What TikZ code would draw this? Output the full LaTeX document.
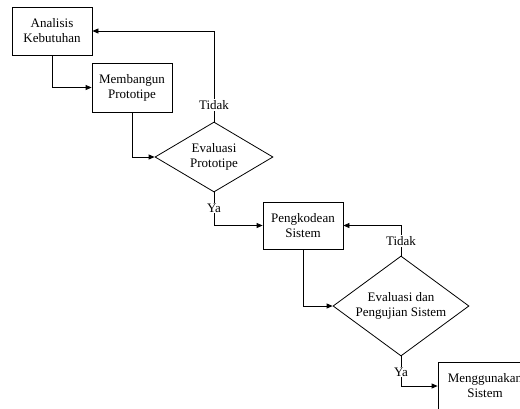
\documentclass[tikz,border=0pt]{standalone}
\usepackage{fontspec}
\setmainfont{Liberation Serif}
\usetikzlibrary{shapes.geometric,arrows.meta}
\tikzset{
  base/.style={font=\fontsize{13}{15}\selectfont, align=center, line width=0.8pt},
  procbox/.style={base, draw, rectangle, inner sep=0pt},
  decbox/.style={base, draw, diamond, inner sep=0pt},
  lbl/.style={font=\fontsize{13}{15}\selectfont, fill=white, inner sep=1pt},
  conn/.style={line width=0.8pt, -{Triangle[length=6pt,width=5pt]}}
}
\begin{document}
\begin{tikzpicture}[x=1pt,y=-1pt]
\useasboundingbox (0,0) rectangle (520,408);
\clip (0,0) rectangle (520,408);
\node[procbox, minimum width=80pt, minimum height=48pt] (a) at (52,31) {Analisis\\Kebutuhan};
\node[procbox, minimum width=80pt, minimum height=49pt] (b) at (132,87.5) {Membangun\\Prototipe};
\node[decbox, minimum width=118pt, minimum height=70pt, aspect=1.686] (d1) at (214,157) {Evaluasi\\Prototipe};
\node[procbox, minimum width=80pt, minimum height=47pt] (c) at (303,225.5) {Pengkodean\\Sistem};
\node[decbox, minimum width=136pt, minimum height=100pt, aspect=1.36] (d2) at (401,306) {Evaluasi dan\\Pengujian Sistem};
\node[procbox, minimum width=94pt, minimum height=48pt] (e) at (485,386) {Menggunakan\\Sistem};
\draw[conn] (a.south) |- (b.west);
\draw[conn] (b.south) |- (d1.west);
\draw[conn] (d1.north) |- (a.east);
\draw[conn] (d1.south) |- (c.west);
\draw[conn] (c.south) |- (d2.west);
\draw[conn] (d2.north) |- (c.east);
\draw[conn] (d2.south) |- (e.west);
\node[lbl] (t1) at (214,105) {Tidak};
\node[lbl] (y1) at (214,208) {Ya};
\node[lbl] (t2) at (401,241) {Tidak};
\node[lbl] (y2) at (401,372) {Ya};
\end{tikzpicture}
\end{document}
